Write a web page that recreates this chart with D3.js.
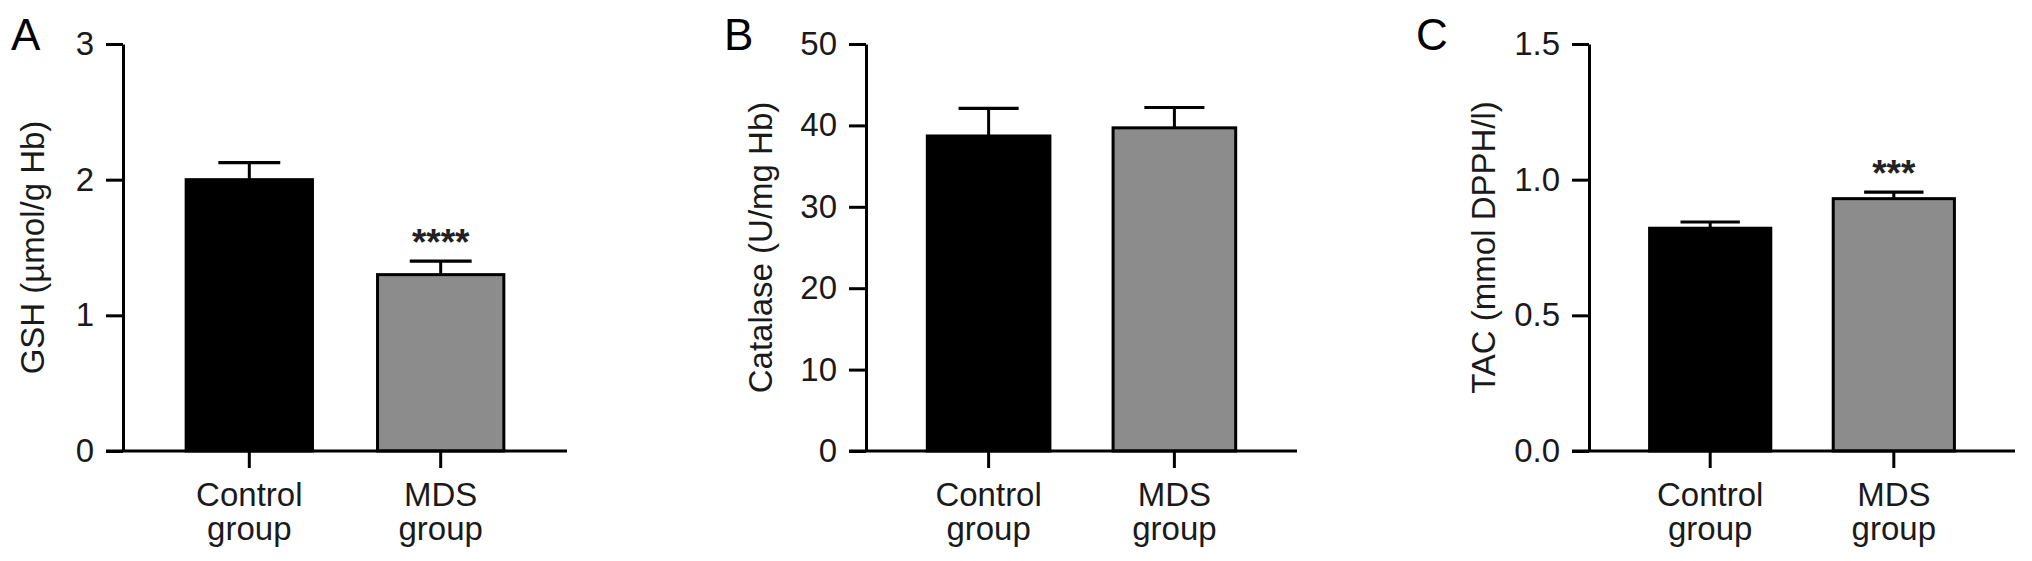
<!DOCTYPE html>
<html>
<head>
<meta charset="utf-8">
<script src="https://cdn.jsdelivr.net/npm/d3@7"></script>
<style>
  html, body { margin: 0; padding: 0; background: #fff; }
  svg { display: block; font-family: "Liberation Sans", Arial, Helvetica, sans-serif; }
</style>
</head>
<body>
<script>
// ---- data ----
const categories = ["Control group", "MDS group"];
const categoryLines = [["Control", "group"], ["MDS", "group"]];

const gshMean = [2.00, 1.30];
const gshErr = [0.125, 0.10];
const gshTicks = [0, 1, 2, 3];
const gshStars = ["", "****"];

const catalaseMean = [38.7, 39.7];
const catalaseErr = [3.4, 2.5];
const catalaseTicks = [0, 10, 20, 30, 40, 50];
const catalaseStars = ["", ""];

const tacMean = [0.821, 0.930];
const tacErr = [0.023, 0.024];
const tacTicks = [0.0, 0.5, 1.0, 1.5];
const tacStars = ["", "***"];

const barFills = ["#000000", "#8c8c8c"];

// ---- layout ----
const W = 2032, H = 561;
const yTop = 44, yBottom = 451;
const tickLen = 17;
const fontSize = 33;

const panels = [
  { letter: "A", letterX: 11, x0: 123, x1: 567, labelX: 32,
    title: "GSH (µmol/g Hb)", means: gshMean, errs: gshErr, ticks: gshTicks,
    fmt: d3.format("d"), stars: gshStars },
  { letter: "B", letterX: 724, x0: 866, x1: 1297, labelX: 760,
    title: "Catalase (U/mg Hb)", means: catalaseMean, errs: catalaseErr, ticks: catalaseTicks,
    fmt: d3.format("d"), stars: catalaseStars },
  { letter: "C", letterX: 1416, x0: 1589, x1: 2015, labelX: 1483,
    title: "TAC (mmol DPPH/l)", means: tacMean, errs: tacErr, ticks: tacTicks,
    fmt: d3.format(".1f"), stars: tacStars }
];

const svg = d3.select("body").append("svg")
  .attr("width", W).attr("height", H)
  .attr("viewBox", `0 0 ${W} ${H}`);

svg.append("rect").attr("width", W).attr("height", H).attr("fill", "#fff");

panels.forEach(p => {
  const g = svg.append("g").attr("class", "panel");
  const yMax = p.ticks[p.ticks.length - 1];
  const y = d3.scaleLinear().domain([0, yMax]).range([yBottom, yTop]);
  const x = d3.scaleBand().domain(categories).range([p.x0, p.x1])
    .paddingInner(0.34).paddingOuter(0.33);

  const rows = categories.map((c, i) => ({ c, i, mean: p.means[i], err: p.errs[i], star: p.stars[i] }));

  // bars
  g.selectAll("rect.bar").data(rows).join("rect")
    .attr("class", "bar")
    .attr("x", d => x(d.c))
    .attr("y", d => y(d.mean))
    .attr("width", x.bandwidth())
    .attr("height", d => y(0) - y(d.mean))
    .attr("fill", d => barFills[d.i])
    .attr("stroke", "#000")
    .attr("stroke-width", 3);

  // error bars (upper whisker + cap)
  const cx = d => x(d.c) + x.bandwidth() / 2;
  const capHalf = x.bandwidth() * 0.245;
  g.selectAll("line.err").data(rows).join("line")
    .attr("class", "err")
    .attr("x1", cx).attr("x2", cx)
    .attr("y1", d => y(d.mean)).attr("y2", d => y(d.mean + d.err))
    .attr("stroke", "#000").attr("stroke-width", 3);
  g.selectAll("line.cap").data(rows).join("line")
    .attr("class", "cap")
    .attr("x1", d => cx(d) - capHalf).attr("x2", d => cx(d) + capHalf)
    .attr("y1", d => y(d.mean + d.err)).attr("y2", d => y(d.mean + d.err))
    .attr("stroke", "#000").attr("stroke-width", 3.2);

  // significance stars
  const starFs = 37;
  g.selectAll("text.star").data(rows.filter(d => d.star)).join("text")
    .attr("class", "star")
    .attr("x", cx)
    .attr("y", d => y(d.mean + d.err) - 27.5 + 0.57 * starFs)
    .attr("text-anchor", "middle")
    .attr("font-size", starFs)
    .attr("font-weight", "bold")
    .attr("fill", "#222")
    .text(d => d.star);

  // y axis
  const ya = d3.axisLeft(y).tickValues(p.ticks).tickFormat(p.fmt)
    .tickSize(tickLen).tickSizeOuter(0).tickPadding(12);
  const yg = g.append("g").attr("transform", `translate(${p.x0},0)`).call(ya);
  yg.select(".domain").attr("stroke", "#000").attr("stroke-width", 3);
  yg.selectAll(".tick line").attr("stroke", "#000").attr("stroke-width", 3);
  yg.selectAll(".tick text").attr("font-size", fontSize).attr("fill", "#1a1a1a")
    .attr("font-family", "\"Liberation Sans\", Arial, Helvetica, sans-serif");

  // x axis
  const xa = d3.axisBottom(x).tickSize(tickLen).tickSizeOuter(0).tickFormat("");
  const xg = g.append("g").attr("transform", `translate(0,${yBottom})`).call(xa);
  xg.select(".domain").remove();
  xg.selectAll(".tick line").attr("stroke", "#000").attr("stroke-width", 3);
  xg.append("line")
    .attr("x1", x.range()[0] - tickLen).attr("x2", x.range()[1])
    .attr("y1", 0).attr("y2", 0)
    .attr("stroke", "#000").attr("stroke-width", 3);
  xg.selectAll(".tick").each(function(d, i) {
    const sel = d3.select(this);
    categoryLines[i].forEach((line, k) => {
      sel.append("text")
        .attr("text-anchor", "middle")
        .attr("font-size", fontSize)
        .attr("fill", "#1a1a1a")
        .attr("font-family", "\"Liberation Sans\", Arial, Helvetica, sans-serif")
        .attr("x", 0).attr("y", 55 + k * 34).text(line);
    });
  });

  // y axis title
  g.append("text")
    .attr("transform", `translate(${p.labelX},${(yTop + yBottom) / 2}) rotate(-90)`)
    .attr("dy", "0.35em")
    .attr("text-anchor", "middle")
    .attr("font-size", fontSize)
    .attr("fill", "#1a1a1a")
    .text(p.title);

  // panel letter
  g.append("text")
    .attr("x", p.letterX).attr("y", 50)
    .attr("font-size", 44)
    .attr("fill", "#000")
    .text(p.letter);
});
</script>
</body>
</html>
